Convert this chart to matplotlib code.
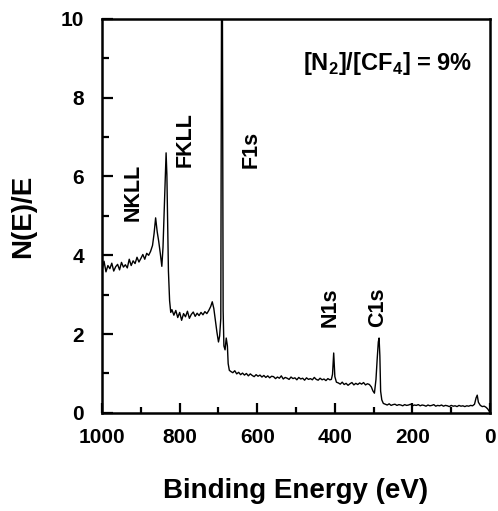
import matplotlib
matplotlib.use("Agg")
import matplotlib.pyplot as plt
from matplotlib.ticker import MultipleLocator

plt.rcParams['font.family'] = ['Liberation Sans', 'DejaVu Sans']
plt.rcParams['font.weight'] = 'bold'
plt.rcParams['mathtext.fontset'] = 'custom'
plt.rcParams['mathtext.bf'] = 'Liberation Sans:bold'

# --- XPS survey spectrum (binding energy in eV, N(E)/E) ---
# background before the Auger peaks
e_bg1 = [1000, 995, 990, 985, 980, 975, 970, 965, 960, 955, 950, 945, 940,
         935, 930, 925, 920, 915, 910, 905, 900, 895, 890, 885, 880]
i_bg1 = [3.62, 3.85, 3.58, 3.74, 3.66, 3.80, 3.60, 3.71, 3.77, 3.63, 3.82, 3.70, 3.76,
         3.68, 3.90, 3.74, 3.86, 3.79, 3.95, 3.83, 3.92, 4.02, 3.90, 4.05, 4.00]
# NKLL and FKLL Auger peaks
e_auger = [875, 870, 866, 862, 858, 854, 850, 846, 843, 840, 837, 835, 833, 831, 829, 826, 823, 820]
i_auger = [4.10, 4.25, 4.55, 4.95, 4.60, 4.35, 4.05, 3.72, 4.20, 5.10, 6.00, 6.60, 6.05, 4.80,
           3.60, 2.85, 2.55, 2.62]
# plateau after FKLL
e_bg2 = [815, 810, 805, 800, 795, 790, 785, 780, 775, 770, 765, 760, 755, 750, 745, 740,
         735, 730, 725, 720, 716, 712, 708, 704, 700, 697]
i_bg2 = [2.48, 2.60, 2.42, 2.55, 2.35, 2.52, 2.44, 2.58, 2.40, 2.50, 2.56, 2.45, 2.53, 2.47,
         2.55, 2.49, 2.57, 2.52, 2.60, 2.70, 2.82, 2.65, 2.35, 2.05, 1.80, 1.95]
# F1s peak (runs off the top of the axes)
e_f1s = [694, 692, 690, 688, 686, 683, 680, 677, 675, 672]
i_f1s = [2.40, 11.0, 11.0, 2.60, 1.70, 1.60, 1.90, 1.70, 1.25, 1.08]
# plateau between F1s and N1s
e_bg3 = [668, 663, 658, 653, 648, 643, 638, 633, 628, 623, 618, 613, 608, 603, 598, 593,
         588, 583, 578, 573, 568, 563, 558, 553, 548, 543, 538, 533, 528, 523, 518, 513,
         508, 503, 498, 493, 488, 483, 478, 473, 468, 463, 458, 453, 448, 443, 438, 433,
         428, 423, 418, 413, 409]
i_bg3 = [1.05, 1.02, 1.07, 0.99, 1.03, 0.97, 1.01, 0.96, 1.00, 0.94, 0.99, 0.95, 0.92, 0.97,
         0.93, 0.96, 0.91, 0.95, 0.90, 0.94, 0.89, 0.93, 0.92, 0.87, 0.91, 0.88, 0.94, 0.86,
         0.90, 0.88, 0.85, 0.91, 0.87, 0.89, 0.84, 0.90, 0.86, 0.88, 0.83, 0.89, 0.85, 0.87,
         0.84, 0.90, 0.85, 0.83, 0.88, 0.84, 0.86, 0.82, 0.87, 0.84, 0.85]
# N1s peak
e_n1s = [406, 403, 400, 396]
i_n1s = [0.98, 1.52, 0.92, 0.78]
# plateau between N1s and C1s
e_bg4 = [391, 386, 381, 376, 371, 366, 361, 356, 351, 346, 341, 336, 331, 326, 321, 316,
         311, 306, 302, 298]
i_bg4 = [0.76, 0.73, 0.78, 0.72, 0.75, 0.70, 0.74, 0.77, 0.71, 0.75, 0.72, 0.76, 0.73, 0.77,
         0.71, 0.74, 0.72, 0.66, 0.56, 0.50]
# C1s peak
e_c1s = [294, 291, 288, 286, 284, 282, 279, 275]
i_c1s = [0.85, 1.35, 1.80, 1.90, 1.45, 0.55, 0.33, 0.24]
# low-energy tail with a small valence feature near 33 eV
e_bg5 = [270, 265, 260, 255, 250, 245, 240, 235, 230, 225, 220, 215, 210, 205, 200, 195,
         190, 185, 180, 175, 170, 165, 160, 155, 150, 145, 140, 135, 130, 125, 120, 115,
         110, 105, 100, 95, 90, 85, 80, 75, 70, 65, 60, 55, 50, 45, 40, 36, 33, 30, 25,
         20, 15, 10, 6, 2]
i_bg5 = [0.22, 0.20, 0.23, 0.19, 0.21, 0.22, 0.19, 0.21, 0.20, 0.18, 0.21, 0.19, 0.20, 0.22,
         0.18, 0.20, 0.19, 0.21, 0.18, 0.20, 0.19, 0.17, 0.20, 0.18, 0.19, 0.21, 0.17, 0.19,
         0.18, 0.20, 0.17, 0.19, 0.18, 0.16, 0.19, 0.17, 0.18, 0.16, 0.19, 0.17, 0.18, 0.16,
         0.18, 0.17, 0.19, 0.18, 0.22, 0.38, 0.45, 0.27, 0.19, 0.16, 0.17, 0.14, 0.10, 0.04]

energy = e_bg1 + e_auger + e_bg2 + e_f1s + e_bg3 + e_n1s + e_bg4 + e_c1s + e_bg5
intensity = i_bg1 + i_auger + i_bg2 + i_f1s + i_bg3 + i_n1s + i_bg4 + i_c1s + i_bg5

# peak labels: text, energy, height
peak_labels = ["NKLL", "FKLL", "F1s", "N1s", "C1s"]
label_x = [921, 786, 616, 412, 289]
label_y = [5.6, 6.93, 6.68, 2.67, 2.67]

fig = plt.figure(figsize=(4.98, 5.11), dpi=100)
ax = fig.add_axes([0.205, 0.192, 0.779, 0.771])

ax.plot(energy, intensity, color='black', linewidth=1.0)

ax.set_xlim(1000, 0)
ax.set_ylim(0, 10)
ax.xaxis.set_major_locator(MultipleLocator(200))
ax.xaxis.set_minor_locator(MultipleLocator(100))
ax.yaxis.set_major_locator(MultipleLocator(2))
ax.yaxis.set_minor_locator(MultipleLocator(1))
ax.tick_params(which='both', direction='in', top=False, right=False, width=1.6, labelsize=15)
ax.tick_params(axis='y', which='major', length=8, pad=13)
ax.tick_params(axis='y', which='minor', length=5)
ax.tick_params(axis='x', which='major', length=7, pad=11)
ax.tick_params(axis='x', which='minor', length=4)
for lab in ax.get_xticklabels() + ax.get_yticklabels():
    lab.set_fontweight('bold')
for sp in ax.spines.values():
    sp.set_linewidth(1.8)

ax.set_xlabel("Binding Energy (eV)", fontsize=20, fontweight='bold', labelpad=22)
ax.set_ylabel("N(E)/E", fontsize=20, fontweight='bold', labelpad=18)

for name, x, y in zip(peak_labels, label_x, label_y):
    ax.text(x, y, name, rotation=90, ha='center', va='center', fontsize=15.5, fontweight='bold')

ax.text(46, 8.86, r"[N$_\mathbf{2}$]/[CF$_\mathbf{4}$] = 9%", ha='right', va='center',
        fontsize=17, fontweight='bold')

fig.savefig("out.png", dpi=100)
